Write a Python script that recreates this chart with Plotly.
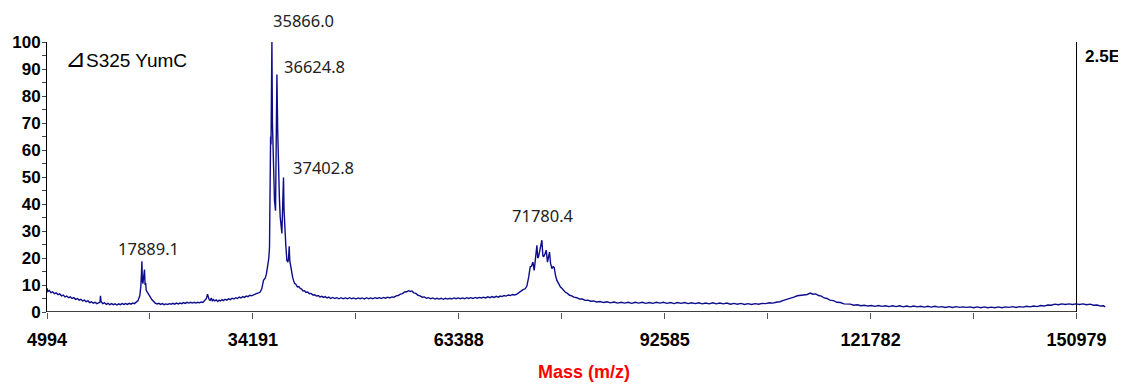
import plotly.graph_objects as go

# ---------------- data ----------------
mass = [
    5000, 5100, 5300, 5550, 5800, 6050, 6300, 6550, 6800, 7050, 7300, 7550, 7800, 8050, 8300, 8550,
    8800, 9050, 9300, 9550, 9800, 10050, 10300, 10550, 10800, 11050, 11300, 11550, 11800, 12050, 12300,
    12500, 12580, 12660, 12900, 13150, 13400, 13650, 13900, 14150, 14400, 14650, 14900, 15150, 15400,
    15650, 15900, 16150, 16400, 16650, 16900, 17150, 17400, 17650, 17900, 18150, 18300, 18400, 18451,
    18510, 18592, 18700, 18820, 18900, 18980, 19061, 19250, 19450, 19628, 19850, 20100, 20337, 20600,
    20850, 21100, 21350, 21600, 21850, 22100, 22350, 22600, 22850, 23100, 23350, 23600, 23850, 24100,
    24350, 24600, 24850, 25100, 25350, 25600, 25850, 26100, 26350, 26600, 26850, 27100, 27400, 27600,
    27754, 27850, 28000, 28136, 28300, 28450, 28600, 28800, 29000, 29200, 29400, 29600, 29800, 30000,
    30250, 30500, 30750, 31000, 31250, 31500, 31750, 32000, 32250, 32500, 32750, 33000, 33250, 33500,
    33750, 34000, 34250, 34500, 34750, 35000, 35226, 35450, 35694, 35935, 36100, 36262, 36450, 36546,
    36644, 36700, 36760, 36885, 36960, 37027, 37100, 37180, 37250, 37400, 37594, 37700, 37821, 37950,
    38062, 38180, 38302, 38420, 38530, 38600, 38672, 38770, 38870, 39012, 39150, 39250, 39338, 39420,
    39480, 39600, 39700, 39830, 39953, 40100, 40300, 40500, 40700, 40898, 41100, 41300, 41500, 41700,
    41950, 42200, 42450, 42700, 42950, 43200, 43450, 43700, 43950, 44200, 44450, 44700, 44950, 45200,
    45500, 45800, 46100, 46400, 46700, 47000, 47300, 47600, 47900, 48200, 48500, 48800, 49100, 49400,
    49700, 50000, 50300, 50600, 50900, 51200, 51500, 51800, 52100, 52400, 52700, 53000, 53300, 53600,
    53900, 54200, 54500, 54800, 55100, 55400, 55700, 56000, 56250, 56500, 56750, 57000, 57300, 57600,
    57900, 58200, 58500, 58800, 59100, 59400, 59700, 60000, 60300, 60600, 60900, 61200, 61500, 61800,
    62100, 62400, 62700, 63000, 63300, 63600, 63900, 64200, 64500, 64800, 65100, 65400, 65700, 66000,
    66300, 66600, 66900, 67200, 67500, 67800, 68100, 68400, 68700, 69000, 69258, 69500, 69800, 70100,
    70400, 70700, 71000, 71300, 71625, 71900, 72200, 72500, 72800, 73043, 73300, 73512, 73700, 73895,
    74078, 74300, 74461, 74580, 74688, 74830, 75000, 75170, 75300, 75397, 75600, 75780, 75964, 76100,
    76248, 76400, 76588, 76750, 76914, 77100, 77297, 77550, 77800, 78000, 78233, 78500, 78800, 79100,
    79400, 79700, 80133, 80500, 80900, 81300, 81700, 82100, 82500, 82900, 83437, 83900, 84400, 84900,
    85400, 85900, 86400, 86900, 87400, 87900, 88400, 88900, 89400, 89900, 90400, 90900, 91400, 91900,
    92400, 92900, 93400, 93900, 94400, 94900, 95400, 95900, 96400, 96900, 97400, 97900, 98400, 98900,
    99400, 99900, 100400, 100900, 101400, 101900, 102400, 102900, 103400, 103900, 104400, 104900,
    105400, 105900, 106400, 106900, 107400, 107900, 108400, 108900, 109430, 109900, 110400, 110900,
    111400, 111900, 112400, 112800, 113220, 113600, 114000, 114400, 114800, 115200, 115600, 116000,
    116520, 117000, 117500, 118000, 118890, 119400, 119900, 120400, 120900, 121400, 121900, 122400,
    122900, 123400, 123900, 124400, 124900, 125400, 125900, 126400, 126900, 127400, 127900, 128400,
    128900, 129400, 129900, 130400, 130900, 131400, 131900, 132400, 132900, 133400, 133900, 134400,
    134900, 135400, 135900, 136400, 136900, 137400, 137900, 138400, 138900, 139400, 139900, 140400,
    140900, 141400, 141900, 142400, 142900, 143400, 143900, 144400, 144900, 145400, 145900, 146400,
    146900, 147400, 147900, 148400, 148900, 149400, 149900, 150400, 150900, 151400, 151900, 152400,
    152900, 153400, 153900, 154400, 154800, 155050,
]
intensity = [
    8.8, 7.6, 8.0, 7.2, 7.5, 6.8, 7.1, 6.4, 6.7, 6.0, 6.3, 5.6, 5.9, 5.3, 5.6, 5.0,
    5.3, 4.7, 5.0, 4.4, 4.7, 4.1, 4.4, 3.8, 4.1, 3.5, 3.8, 3.3, 3.6, 3.1, 3.4,
    3.6, 6.0, 3.9, 3.1, 3.4, 2.8, 3.2, 2.7, 3.1, 2.7, 3.0, 2.6, 3.0, 2.7,
    3.1, 2.8, 3.1, 2.8, 3.2, 2.9, 3.3, 3.1, 3.6, 4.2, 6.0, 9.5, 15.0, 18.8,
    11.5, 10.5, 13.0, 15.7, 10.0, 10.8, 8.0, 7.0, 6.0, 5.6, 4.6, 3.9, 3.3, 3.0,
    3.2, 2.8, 3.1, 2.7, 3.0, 2.8, 3.1, 2.9, 3.2, 2.9, 3.3, 3.0, 3.3, 3.1,
    3.5, 3.2, 3.6, 3.3, 3.6, 3.3, 3.6, 3.3, 3.6, 3.4, 3.7, 3.5, 4.2, 5.0,
    6.6, 5.2, 4.5, 4.3, 5.2, 4.0, 4.6, 4.1, 4.5, 3.9, 4.4, 4.1, 4.6, 4.2,
    4.7, 4.4, 4.9, 4.6, 5.1, 4.8, 5.3, 5.0, 5.5, 5.2, 5.7, 5.4, 5.9, 5.7,
    6.2, 6.0, 6.4, 6.5, 6.9, 7.1, 7.4, 8.6, 11.7, 12.5, 14.0, 16.7, 20.0, 24.0,
    60.0, 65.0, 62.0, 100.0, 70.0, 61.1, 55.0, 48.0, 41.4, 37.5, 88.0, 68.0, 52.5, 42.0,
    35.2, 30.0, 29.1, 40.0, 49.8, 38.0, 32.7, 28.0, 24.1, 19.1, 18.5, 20.0, 24.3, 19.0,
    17.9, 15.5, 14.0, 12.8, 11.7, 10.6, 10.2, 9.3, 9.4, 8.7, 8.5, 7.8, 7.9, 7.3,
    7.4, 6.8, 6.9, 6.3, 6.4, 5.9, 6.1, 5.6, 5.8, 5.4, 5.7, 5.2, 5.5, 5.0,
    5.4, 5.0, 5.3, 4.9, 5.3, 4.9, 5.2, 4.9, 5.3, 4.9, 5.2, 4.8, 5.2, 4.9,
    5.2, 4.8, 5.3, 4.9, 5.2, 4.9, 5.3, 5.0, 5.3, 5.0, 5.4, 5.1, 5.5, 5.2,
    5.6, 5.5, 6.0, 6.1, 6.6, 6.8, 7.4, 7.5, 7.9, 7.6, 7.8, 7.1, 6.9, 6.2,
    6.0, 5.5, 5.6, 5.1, 5.3, 4.9, 5.2, 4.8, 5.1, 4.8, 5.1, 4.7, 5.1, 4.8,
    5.1, 4.8, 5.2, 4.9, 5.2, 4.9, 5.2, 4.9, 5.3, 5.0, 5.3, 5.0, 5.4, 5.1,
    5.4, 5.2, 5.5, 5.2, 5.6, 5.3, 5.7, 5.4, 5.8, 5.5, 5.9, 5.7, 6.1, 5.9,
    6.3, 6.1, 6.5, 6.3, 6.6, 7.2, 7.6, 8.3, 8.6, 9.6, 13.0, 16.7, 17.0, 18.5,
    15.4, 20.0, 24.7, 20.0, 20.4, 22.2, 24.0, 26.6, 21.0, 20.4, 21.5, 22.9, 18.5, 20.0,
    22.2, 18.0, 16.1, 16.8, 16.5, 13.5, 11.7, 10.5, 9.2, 8.8, 8.0, 7.3, 6.9, 6.2,
    6.0, 5.5, 5.3, 4.8, 4.8, 4.3, 4.4, 4.0, 4.1, 3.7, 3.9, 3.5, 3.8, 3.4,
    3.7, 3.3, 3.6, 3.3, 3.6, 3.2, 3.6, 3.3, 3.6, 3.2, 3.5, 3.2, 3.6, 3.3,
    3.6, 3.2, 3.5, 3.1, 3.5, 3.2, 3.5, 3.1, 3.4, 3.1, 3.4, 3.0, 3.3, 3.0,
    3.4, 3.0, 3.3, 3.0, 3.3, 2.9, 3.2, 2.9, 3.2, 2.8, 3.1, 2.8,
    3.1, 2.9, 3.2, 3.1, 3.4, 3.3, 3.6, 3.8, 4.3, 4.6, 5.2, 5.5,
    6.0, 6.2, 6.6, 6.5, 7.0, 6.6, 6.7, 6.1, 5.9, 5.2, 5.0, 4.4,
    4.2, 3.6, 3.5, 3.0, 2.9, 2.5, 2.7, 2.3, 2.5, 2.2, 2.4, 2.1,
    2.4, 2.1, 2.3, 2.0, 2.3, 2.0, 2.3, 1.9, 2.2, 1.9, 2.2, 1.9,
    2.1, 1.8, 2.1, 1.8, 2.1, 1.8, 2.0, 1.7, 2.0, 1.7, 2.0, 1.7,
    1.9, 1.7, 1.9, 1.6, 1.9, 1.6, 1.9, 1.6, 1.8, 1.6, 1.9, 1.6,
    1.9, 1.7, 2.0, 1.7, 2.0, 1.8, 2.1, 1.9, 2.2, 2.0, 2.4, 2.2,
    2.6, 2.5, 2.9, 2.7, 3.0, 2.8, 3.0, 2.8, 3.0, 2.8, 3.0, 2.7,
    2.9, 2.5, 2.6, 2.2, 2.3, 1.9,
]

x_tickvals = [4994, 19592.5, 34191, 48789.5, 63388, 77986.5, 92585, 107183.5, 121782, 136380.5, 150979]
x_ticktext = ["4994", "", "34191", "", "63388", "", "92585", "", "121782", "", "150979"]
y_tickvals = list(range(0, 101, 5))
y_ticktext = [str(v) if v % 10 == 0 else "" for v in y_tickvals]

peak_labels = ["35866.0", "36624.8", "37402.8", "17889.1", "71780.4"]
peak_label_x = [41366, 42955, 44258, 19344, 75355]
peak_label_y = [1.081, 0.909, 0.536, 0.235, 0.358]

sample_name = "<span style='font-size:25px'>⊿</span>S325 YumC"
scale_text = "2.5E"
x_title = "Mass (m/z)"

# ---------------- figure ----------------
BOLDSANS = "Liberation Sans, Arial, sans-serif"

fig = go.Figure()
fig.add_trace(go.Scatter(
    x=mass, y=intensity, mode="lines",
    line=dict(color="#0d0d8a", width=1.4),
    hoverinfo="skip", showlegend=False,
))

# the page adds an 8px body margin, so the margins are reduced by 8px
fig.update_layout(
    width=1126, height=388,
    margin=dict(l=39, r=24, t=34, b=84, autoexpand=False),
    paper_bgcolor="white", plot_bgcolor="white",
    showlegend=False,
    xaxis=dict(
        range=[4994, 155727], automargin=False,
        showgrid=False, zeroline=False, showline=False,
        tickmode="array", tickvals=x_tickvals, ticktext=x_ticktext,
        ticks="outside", ticklen=6, tickwidth=1, tickcolor="#555",
        ticklabelstandoff=5,
        tickfont=dict(family=BOLDSANS, size=18, color="black", weight="bold"),
    ),
    yaxis=dict(
        range=[0, 100], automargin=False,
        showgrid=False, zeroline=False,
        showline=True, linecolor="black", linewidth=1,
        tickmode="array", tickvals=y_tickvals, ticktext=y_ticktext,
        ticks="outside", ticklen=4, tickwidth=1, tickcolor="#444",
        ticklabelstandoff=-2,
        tickfont=dict(family=BOLDSANS, size=17, color="black", weight="bold"),
    ),
)

# x axis baseline (ends at last labelled tick) and right-hand frame line
fig.add_shape(type="line", xref="x", yref="y", x0=4994, x1=150979, y0=0, y1=0,
              line=dict(color="black", width=1.5))
fig.add_shape(type="line", xref="x", yref="y", x0=150979, x1=150979, y0=0, y1=100,
              line=dict(color="black", width=1))

for txt, px, py in zip(peak_labels, peak_label_x, peak_label_y):
    fig.add_annotation(text=txt, x=px, y=py, xref="x", yref="paper",
                       showarrow=False, xanchor="center", yanchor="middle",
                       font=dict(family="Noto Sans, Lato, sans-serif", size=16.5, color="#222"))

fig.add_annotation(text=sample_name, x=0.0155, y=0.94, xref="paper", yref="paper",
                   showarrow=False, xanchor="left", yanchor="middle",
                   font=dict(family="Liberation Sans, Arial, sans-serif", size=19, color="black"))
fig.add_annotation(text=scale_text, x=0.9743, y=0.947, xref="paper", yref="paper",
                   showarrow=False, xanchor="left", yanchor="middle",
                   font=dict(family=BOLDSANS, size=17, color="black", weight="bold"))
fig.add_annotation(text=x_title, x=0.505, y=-0.223, xref="paper", yref="paper",
                   showarrow=False, xanchor="center", yanchor="middle",
                   font=dict(family=BOLDSANS, size=18, color="#ff0000", weight="bold"))

fig.write_html("out.html")
